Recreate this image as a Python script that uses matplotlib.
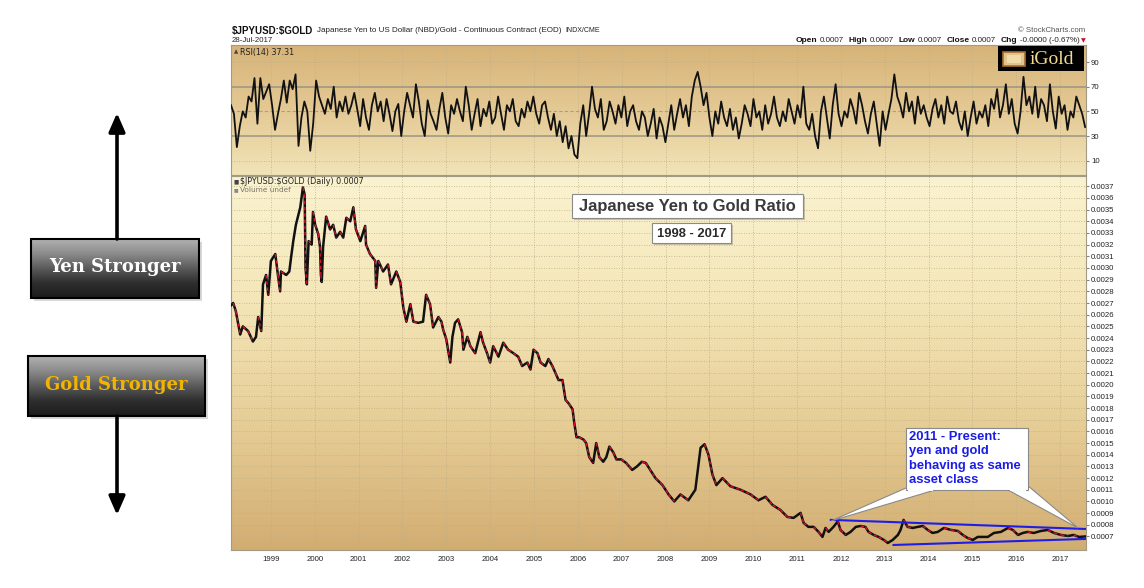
import numpy as np
import matplotlib
matplotlib.use('Agg')
import matplotlib.pyplot as plt
from matplotlib.collections import LineCollection
from matplotlib.patches import Rectangle, Polygon
from matplotlib.colors import LinearSegmentedColormap

plt.rcParams['font.family'] = ['Liberation Sans', 'DejaVu Sans']

# ---------------- data ----------------
price_dates = [
    1998.09, 1998.14, 1998.20, 1998.30, 1998.36, 1998.48, 1998.59, 1998.66, 1998.71, 1998.78,
    1998.82, 1998.89, 1998.94, 1999.00, 1999.10, 1999.16, 1999.21, 1999.23, 1999.35, 1999.42,
    1999.46, 1999.51, 1999.57, 1999.67, 1999.73, 1999.77, 1999.79, 1999.82, 1999.86, 1999.93,
    1999.96, 2000.01, 2000.08, 2000.12, 2000.14, 2000.16, 2000.19, 2000.26, 2000.35, 2000.42,
    2000.49, 2000.58, 2000.65, 2000.72, 2000.81, 2000.88, 2000.94, 2001.04, 2001.10, 2001.15,
    2001.17, 2001.26, 2001.38, 2001.40, 2001.45, 2001.56, 2001.67, 2001.74, 2001.86, 2001.95,
    2002.02, 2002.09, 2002.18, 2002.25, 2002.36, 2002.47, 2002.54, 2002.63, 2002.70, 2002.82,
    2002.89, 2002.93, 2003.00, 2003.09, 2003.14, 2003.20, 2003.27, 2003.36, 2003.39, 2003.48,
    2003.55, 2003.66, 2003.78, 2003.84, 2003.93, 2004.00, 2004.07, 2004.19, 2004.30, 2004.41,
    2004.53, 2004.64, 2004.73, 2004.85, 2004.92, 2004.99, 2005.08, 2005.15, 2005.26, 2005.33,
    2005.42, 2005.49, 2005.56, 2005.65, 2005.72, 2005.79, 2005.88, 2005.92, 2005.97, 2006.03,
    2006.13, 2006.19, 2006.26, 2006.35, 2006.42, 2006.49, 2006.58, 2006.65, 2006.72, 2006.81,
    2006.88, 2006.99, 2007.10, 2007.17, 2007.24, 2007.35, 2007.46, 2007.55, 2007.77, 2007.93,
    2008.07, 2008.20, 2008.34, 2008.52, 2008.68, 2008.80, 2008.89, 2008.98, 2009.07, 2009.16,
    2009.30, 2009.48, 2009.71, 2009.94, 2010.12, 2010.28, 2010.44, 2010.62, 2010.78, 2010.92,
    2011.08, 2011.15, 2011.26, 2011.38, 2011.49, 2011.58, 2011.65, 2011.72, 2011.83, 2011.93,
    2011.99, 2012.11, 2012.22, 2012.34, 2012.45, 2012.56, 2012.63, 2012.75, 2012.86, 2012.98,
    2013.07, 2013.18, 2013.30, 2013.36, 2013.43, 2013.52, 2013.64, 2013.75, 2013.87, 2013.98,
    2014.09, 2014.21, 2014.35, 2014.51, 2014.67, 2014.78, 2014.89, 2015.01, 2015.12, 2015.24,
    2015.35, 2015.49, 2015.65, 2015.81, 2015.92, 2016.04, 2016.15, 2016.26, 2016.40, 2016.56,
    2016.72, 2016.86, 2017.02, 2017.18, 2017.31, 2017.43, 2017.57,
]
price_values = [
    0.00268, 0.00270, 0.00263, 0.00243, 0.00250, 0.00246, 0.00237, 0.00241, 0.00258, 0.00246,
    0.00286, 0.00294, 0.00277, 0.00306, 0.00312, 0.00294, 0.00280, 0.00297, 0.00294, 0.00297,
    0.00309, 0.00323, 0.00337, 0.00352, 0.00369, 0.00363, 0.00300, 0.00286, 0.00323, 0.00320,
    0.00348, 0.00337, 0.00329, 0.00318, 0.00294, 0.00288, 0.00318, 0.00344, 0.00333, 0.00337,
    0.00326, 0.00331, 0.00326, 0.00343, 0.00340, 0.00352, 0.00333, 0.00323, 0.00330, 0.00336,
    0.00320, 0.00312, 0.00306, 0.00283, 0.00306, 0.00297, 0.00303, 0.00286, 0.00297, 0.00288,
    0.00266, 0.00254, 0.00269, 0.00254, 0.00253, 0.00254, 0.00277, 0.00269, 0.00249, 0.00258,
    0.00254, 0.00247, 0.00239, 0.00219, 0.00241, 0.00253, 0.00256, 0.00245, 0.00230, 0.00241,
    0.00233, 0.00227, 0.00245, 0.00236, 0.00227, 0.00219, 0.00233, 0.00224, 0.00236, 0.00230,
    0.00227, 0.00224, 0.00216, 0.00219, 0.00213, 0.00230, 0.00227, 0.00219, 0.00216, 0.00222,
    0.00216, 0.00210, 0.00204, 0.00204, 0.00187, 0.00184, 0.00179, 0.00167, 0.00155, 0.00155,
    0.00153, 0.00150, 0.00138, 0.00133, 0.00150, 0.00138, 0.00134, 0.00138, 0.00147, 0.00142,
    0.00136, 0.00136, 0.00133, 0.00130, 0.00127, 0.00130, 0.00134, 0.00133, 0.00120, 0.00114,
    0.00106, 0.00100, 0.00106, 0.00101, 0.00110, 0.00146, 0.00149, 0.00140, 0.00123, 0.00114,
    0.00120, 0.00113, 0.00110, 0.00106, 0.00101, 0.00104, 0.00097, 0.000927, 0.000867, 0.000859,
    0.000902, 0.000816, 0.000782, 0.000782, 0.000739, 0.000696, 0.000773, 0.000739, 0.000782, 0.000830,
    0.000756, 0.000713, 0.000739, 0.000782, 0.000790, 0.000782, 0.000739, 0.000713, 0.000696, 0.000670,
    0.000644, 0.000670, 0.000713, 0.000756, 0.000842, 0.000782, 0.000773, 0.000782, 0.000790, 0.000756,
    0.000730, 0.000739, 0.000773, 0.000756, 0.000747, 0.000713, 0.000687, 0.000670, 0.000696, 0.000696,
    0.000696, 0.000730, 0.000739, 0.000773, 0.000756, 0.000713, 0.000730, 0.000739, 0.000730, 0.000747,
    0.000756, 0.000730, 0.000713, 0.000704, 0.000713, 0.000696, 0.000700,
]

rsi_values = [
    55, 48, 21, 38, 50, 45, 62, 58, 77, 40, 77, 60, 66,
    72, 55, 35, 48, 60, 75, 57, 75, 68, 80, 22, 45, 58, 50, 18,
    40, 75, 62, 55, 48, 60, 52, 70, 45, 58, 50, 62, 48, 55, 65,
    52, 38, 60, 45, 35, 55, 65, 50, 58, 42, 60, 48, 34, 50, 56,
    30, 50, 65, 55, 45, 72, 58, 40, 30, 59, 48, 42, 35, 52, 65,
    45, 32, 55, 48, 60, 50, 42, 70, 55, 35, 48, 60, 38, 52, 46,
    58, 40, 45, 62, 48, 35, 55, 50, 60, 42, 38, 52, 45, 58, 50,
    62, 48, 40, 55, 58, 45, 35, 48, 30, 42, 25, 38, 20, 30, 15,
    12, 40, 55, 30, 48, 70, 52, 45, 60, 35, 42, 58, 50, 40, 55,
    45, 62, 38, 50, 55, 42, 35, 50, 45, 30, 40, 52, 28, 45, 38,
    25, 40, 55, 35, 48, 60, 45, 55, 38, 62, 75, 82, 70, 55, 65,
    45, 30, 50, 40, 58, 45, 38, 52, 35, 45, 28, 40, 55, 48, 38,
    60, 45, 50, 35, 55, 40, 48, 62, 45, 38, 50, 42, 60, 50, 40,
    55, 45, 70, 40, 35, 48, 30, 20, 50, 62, 45, 28, 55, 72, 48,
    38, 50, 45, 60, 52, 40, 65, 55, 42, 32, 48, 58, 40, 22, 50,
    35, 48, 60, 80, 62, 55, 45, 65, 50, 58, 40, 62, 48, 55, 45,
    38, 52, 60, 45, 55, 40, 62, 50, 48, 58, 42, 35, 50, 30, 45,
    58, 40, 50, 45, 55, 38, 60, 52, 68, 45, 55, 72, 48, 60, 40,
    32, 50, 78, 55, 62, 48, 70, 45, 60, 55, 42, 72, 50, 36, 62,
    48, 55, 35, 50, 45, 62, 55, 48, 37.31,
]
rsi_first_date, rsi_last_date = 1998.09, 2017.57

year_ticks = list(range(1999, 2018))
price_ticks = [round(0.0007 + 0.0001 * i, 4) for i in range(31)]
rsi_ticks = [10, 30, 50, 70, 90]

upper_channel_dates = [2011.77, 2017.59]
upper_channel_values = [0.000842, 0.000764]
lower_channel_dates = [2013.20, 2017.59]
lower_channel_values = [0.000627, 0.000679]

# ---------------- layout ----------------
W, H = 1144, 588
fig = plt.figure(figsize=(W / 100, H / 100), dpi=100)
fig.patch.set_facecolor('white')


def frac(l, t, r, b):
    return [l / W, 1 - b / H, (r - l) / W, (b - t) / H]


XL = (1998.09, 2017.59)
ax_rsi = fig.add_axes(frac(231, 45, 1086, 175))
ax = fig.add_axes(frac(231, 176, 1086, 550))

grad = np.linspace(0, 1, 256)[:, None]
cm_main = LinearSegmentedColormap.from_list('m', ['#d2ad72', '#e6cd96', '#f4e6b8', '#faf3d0'])
cm_rsi = LinearSegmentedColormap.from_list('r', ['#f1e4b8', '#e4c994', '#d6b378'])
ax.imshow(grad, cmap=cm_main, aspect='auto', extent=[0, 1, 0, 1], transform=ax.transAxes,
          origin='lower', zorder=0)
ax_rsi.imshow(grad, cmap=cm_rsi, aspect='auto', extent=[0, 1, 0, 1], transform=ax_rsi.transAxes,
              origin='lower', zorder=0)

grid_kw = dict(color='#bfae84', lw=0.6, linestyle=(0, (1, 2)), zorder=1)
for a in (ax, ax_rsi):
    a.set_xlim(*XL)
    for s in a.spines.values():
        s.set_color('#a39a86')
        s.set_linewidth(0.8)
    for yr in year_ticks:
        a.axvline(yr, **grid_kw)
    a.yaxis.tick_right()
    a.tick_params(axis='y', labelsize=5.6, length=2, color='#8a8272', labelcolor='#222222', pad=1.5)
    a.tick_params(axis='x', length=0)

# RSI panel
ax_rsi.set_ylim(-1.6, 103.8)
ax_rsi.set_yticks(rsi_ticks)
ax_rsi.set_xticks(year_ticks)
ax_rsi.set_xticklabels([])
for lv in (10, 90):
    ax_rsi.axhline(lv, **grid_kw)
ax_rsi.axhline(50, color='#a89f8a', lw=0.8, linestyle=(0, (3, 2)), zorder=1)
for lv in (30, 70):
    ax_rsi.axhline(lv, color='#9b9483', lw=1.1, zorder=1)
rsi_dates = np.linspace(rsi_first_date, rsi_last_date, len(rsi_values))
ax_rsi.plot(rsi_dates, rsi_values, color='#111111', lw=1.3, zorder=3)

# Main panel
ax.set_ylim(0.000584, 0.003788)
ax.set_yticks(price_ticks)
ax.set_yticklabels([f'{v:.4f}' for v in price_ticks])
ax.set_xticks(year_ticks)
ax.set_xticklabels([str(y) for y in year_ticks], fontsize=5.6, color='#222222')
ax.tick_params(axis='x', pad=4)
for v in price_ticks:
    ax.axhline(v, **grid_kw)

pts = np.column_stack([price_dates, price_values])
segs = np.stack([pts[:-1], pts[1:]], axis=1)
vals = np.array(price_values)
down = np.diff(vals) < 0
ax.plot(price_dates, price_values, color='#111111', lw=1.8, zorder=3, solid_joinstyle='round')
ax.add_collection(LineCollection(segs[down], colors='#d4122e', linewidths=1.0, zorder=4,
                                 linestyles=[(0, (2.5, 2.0))]))

ax.plot(upper_channel_dates, upper_channel_values, color='#1e1ee6', lw=1.5, zorder=5)
ax.plot(lower_channel_dates, lower_channel_values, color='#1e1ee6', lw=1.5, zorder=5)

# ---------------- overlay (pixel coords) ----------------
ov = fig.add_axes([0, 0, 1, 1])
ov.patch.set_alpha(0)
ov.axis('off')

# panel labels
ov.text(240, 52, 'RSI(14) 37.31', fontsize=5.8, family='DejaVu Sans', va='center', color='#222')
ov.text(234, 52, '\u25B2', fontsize=4, family='DejaVu Sans', va='center', color='#444')
ov.text(240, 182, r'\$JPYUSD:\$GOLD (Daily) 0.0007', fontsize=5.8, family='DejaVu Sans', va='center', color='#222')
ov.text(234, 182, '\u25A0', fontsize=4, family='DejaVu Sans', va='center', color='#444')
ov.text(240, 189.5, 'Volume undef', fontsize=5.3, family='DejaVu Sans', va='center', color='#7a7468')
ov.text(234, 189.5, '\u25A0', fontsize=3.5, family='DejaVu Sans', va='center', color='#888')

renderer = fig.canvas.get_renderer()


def chain(x, y, pieces, align='left'):
    texts = []
    cur = x
    for s, props, gap in pieces:
        t = ov.text(cur, y, s, va='center', ha='left', **props)
        w = t.get_window_extent(renderer=renderer).width
        texts.append(t)
        cur += w + gap
    if align == 'right':
        shift = cur - x
        for t in texts:
            px, py = t.get_position()
            t.set_position((px - shift, py))


B = dict(fontsize=6.0, fontweight='bold', color='#111')
N = dict(fontsize=5.8, color='#222')
chain(232, 31, [(r'\$JPYUSD:\$GOLD', dict(fontsize=7.0, fontweight='bold', color='#111'), 4),
                ('Japanese Yen to US Dollar (NBD)/Gold - Continuous Contract (EOD)', N, 4),
                ('INDX/CME', dict(fontsize=5.0, color='#222'), 0)])
ov.text(232, 41, '28-Jul-2017', fontsize=5.6, va='center', color='#222')
ov.text(1085, 31, '\u00A9 StockCharts.com', fontsize=5.6, ha='right', va='center', color='#555')
chain(1086, 41, [('Open', B, 2), ('0.0007', N, 5), ('High', B, 2), ('0.0007', N, 5),
                 ('Low', B, 2), ('0.0007', N, 5), ('Close', B, 2), ('0.0007', N, 5),
                 ('Chg', B, 2), ('-0.0000 (-0.67%)', N, 2),
                 ('\u25BC', dict(fontsize=4.5, color='#d01020', family='DejaVu Sans'), 0)],
      align='right')

# iGold logo
ov.add_patch(Rectangle((998, 46), 86, 25, fc='black', ec='none', zorder=5))
ov.add_patch(Rectangle((1003, 52), 22, 14, fc='#e2c48a', ec='#a86c34', lw=1.2, zorder=6))
ov.add_patch(Rectangle((1007, 55), 14, 8, fc='#f0dcaa', ec='none', zorder=6))
ov.text(1030, 59, 'iGold', fontsize=14, family='Liberation Serif', color='#f1d993',
        va='center', ha='left', zorder=7)


# title boxes
def box(x, y, w, h, ec='#8a8a8a', shadow=True, z=5):
    if shadow:
        ov.add_patch(Rectangle((x + 2, y + 2), w, h, fc='#000000', alpha=0.18, ec='none', zorder=z))
    ov.add_patch(Rectangle((x, y), w, h, fc='white', ec=ec, lw=0.8, zorder=z + 0.1))


box(572, 194, 231, 24)
ov.text(687.5, 206.5, 'Japanese Yen to Gold Ratio', fontsize=11.9, fontweight='bold', color='#3a3a3a',
        ha='center', va='center', zorder=6)
box(652, 223, 79, 20)
ov.text(691.5, 234.2, '1998 - 2017', fontsize=9.4, fontweight='bold', color='#2a2a2a',
        ha='center', va='center', zorder=6)

# callout
ov.add_patch(Polygon([(906, 488), (831, 521), (935, 490)], closed=True, fc='white', ec='#8a8a8a',
                     lw=0.8, zorder=5))
ov.add_patch(Polygon([(1008, 490), (1078, 528), (1027, 485)], closed=True, fc='white', ec='#8a8a8a',
                     lw=0.8, zorder=5))
box(906, 428, 122, 62, shadow=False, z=5.2)
ov.add_patch(Polygon([(908, 489.3), (933, 489.3), (933, 491), (908, 491)], fc='white', ec='none', zorder=5.4))
ov.add_patch(Polygon([(1010, 489.3), (1026, 489.3), (1026, 491), (1010, 491)], fc='white', ec='none', zorder=5.4))
ov.text(909, 431, '2011 - Present:\nyen and gold\nbehaving as same\nasset class', fontsize=9.4,
        fontweight='bold', color='#1c1ce8', ha='left', va='top', linespacing=1.26, zorder=6)

# left strength boxes
cm_box = LinearSegmentedColormap.from_list('b', ['#b2b2b2', '#8a8a8a', '#5a5a5a', '#2e2e2e', '#1c1c1c'])
box_grad = np.linspace(0, 1, 128)[:, None]


def strength_box(x0, y0, x1, y1, label, color):
    ov.add_patch(Rectangle((x0 + 3, y0 + 3), x1 - x0, y1 - y0, fc='#000000', alpha=0.15, ec='none', zorder=2))
    ov.imshow(box_grad, cmap=cm_box, aspect='auto', extent=[x0, x1, y1, y0], origin='upper', zorder=3)
    ov.add_patch(Rectangle((x0, y0), x1 - x0, y1 - y0, fill=False, ec='black', lw=1.5, zorder=4))
    ov.text((x0 + x1) / 2, (y0 + y1) / 2 - 1, label, fontsize=13, fontweight='bold',
            family='DejaVu Serif', color=color, ha='center', va='center', zorder=5)


strength_box(31, 239, 199, 298, 'Yen Stronger', 'white')
strength_box(28, 356, 205, 416, 'Gold Stronger', '#f2b400')
ov.annotate('', xy=(117, 113), xytext=(117, 239),
            arrowprops=dict(arrowstyle='-|>,head_width=0.35,head_length=0.8', lw=2.6, color='black',
                            shrinkA=0, shrinkB=0, mutation_scale=14))
ov.annotate('', xy=(117, 515), xytext=(117, 416),
            arrowprops=dict(arrowstyle='-|>,head_width=0.35,head_length=0.8', lw=2.6, color='black',
                            shrinkA=0, shrinkB=0, mutation_scale=14))

ov.set_xlim(0, W)
ov.set_ylim(H, 0)
ax.set_xlim(*XL)
ax.set_ylim(0.000584, 0.003788)
ax_rsi.set_xlim(*XL)
ax_rsi.set_ylim(-1.6, 103.8)

fig.savefig('out.png', dpi=100, facecolor='white')
